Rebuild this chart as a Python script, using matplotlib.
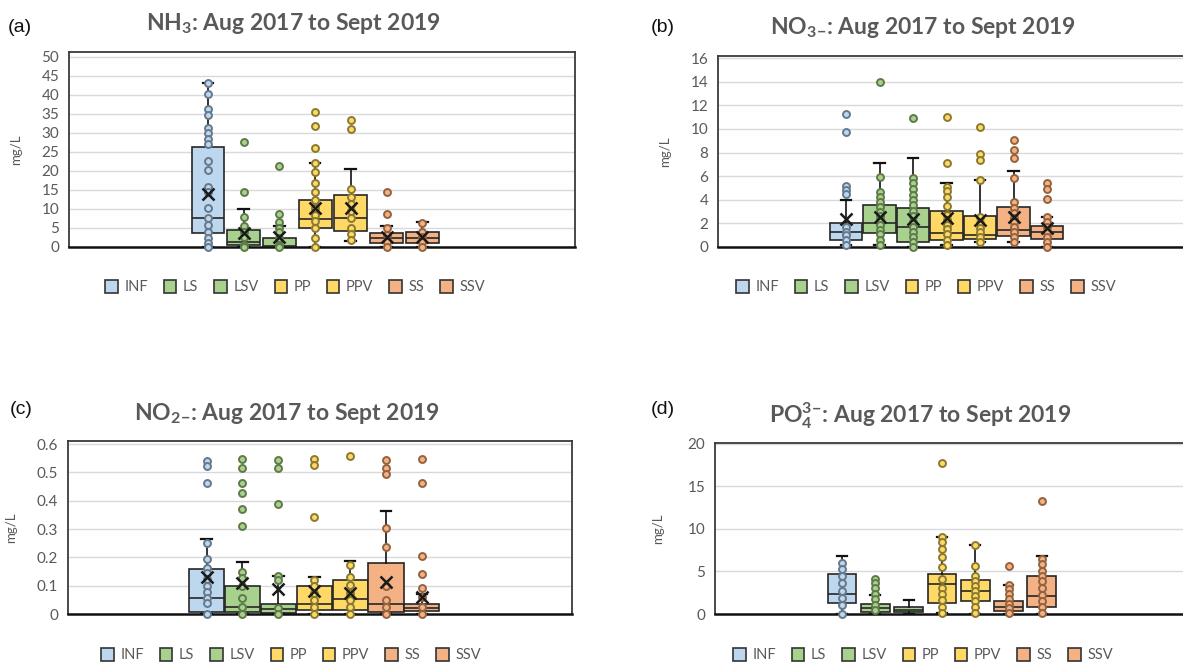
import numpy as np
import matplotlib
matplotlib.use('Agg')
import matplotlib.pyplot as plt
from matplotlib.patches import Patch

# ---------------- data ----------------
categories = ['INF', 'LS', 'LSV', 'PP', 'PPV', 'SS', 'SSV']

# (a) NH3
nh3_lo = [0, 0, 0, 0, 1.6, 0, 0]
nh3_q1 = [3.7, 0.5, 0.0, 5.1, 4.3, 1.1, 1.1]
nh3_med = [7.6, 1.2, 0.3, 7.3, 7.7, 2.4, 2.4]
nh3_q3 = [26.2, 4.4, 2.3, 12.4, 13.8, 3.6, 4.0]
nh3_hi = [43.1, 9.9, 5.5, 22.1, 20.6, 5.5, 6.6]
nh3_mean = [14.0, 3.7, 2.7, 10.3, 10.3, 2.7, 2.7]
nh3_pts = [
    [43.1, 40.3, 36.4, 34.7, 31.4, 29.9, 28.5, 27.2, 22.5, 20.3, 15.7, 14.4, 10.3, 7.5, 5.7, 4.0, 2.4, 1.1, 0],
    [27.5, 14.6, 7.9, 5.5, 4.0, 2.7, 0.5, 0],
    [21.2, 8.8, 6.6, 5.0, 4.0, 2.3, 0.5, 0],
    [35.6, 31.8, 26.1, 22.1, 19.7, 16.9, 14.4, 12.3, 10.3, 8.3, 6.9, 4.9, 2.3, 0],
    [33.4, 31.0, 15.3, 13.1, 11.4, 9.5, 7.5, 5.0, 3.3, 1.8],
    [14.6, 8.8, 5.0, 3.1, 1.4, 0],
    [6.2, 4.0, 2.7, 1.4, 0],
]

# (b) NO3-
no3_lo = [0.17, 0.17, 0, 0.17, 0.45, 0.45, 0]
no3_q1 = [0.6, 1.15, 0.45, 0.6, 0.65, 0.96, 0.65]
no3_med = [1.24, 2.0, 1.66, 1.21, 1.0, 1.44, 1.24]
no3_q3 = [2.0, 3.55, 3.32, 3.07, 2.65, 3.4, 1.77]
no3_hi = [4.0, 7.07, 7.5, 5.44, 5.66, 6.45, 2.56]
no3_mean = [2.4, 2.56, 2.37, 2.42, 2.3, 2.56, 1.58]
no3_pts = [
    [11.3, 9.75, 5.2, 4.8, 4.45, 1.7, 1.3, 1.0, 0.6, 0.17],
    [14.0, 5.94, 4.68, 4.25, 3.8, 3.4, 3.0, 2.65, 2.3, 1.9, 1.45, 1.07, 0.6, 0.17],
    [10.9, 5.8, 5.4, 4.9, 4.4, 4.0, 3.55, 3.07, 2.65, 2.14, 1.7, 1.3, 0.87, 0.45, 0],
    [11.0, 7.15, 5.1, 4.76, 4.25, 3.5, 2.7, 2.3, 1.9, 1.5, 1.1, 0.6, 0.17],
    [10.2, 7.9, 7.4, 5.66, 2.5, 2.0, 1.6, 1.24, 0.87, 0.45],
    [9.04, 8.25, 7.5, 5.8, 3.83, 3.27, 2.85, 2.48, 2.14, 1.7, 1.3, 0.87, 0.45],
    [5.44, 4.9, 4.03, 2.56, 2.14, 1.7, 1.3, 0.87, 0.45, 0],
]

# (c) NO2-
no2_lo = [0, 0, 0, 0, 0, 0, 0]
no2_q1 = [0.006, 0.008, 0.002, 0.014, 0.014, 0.008, 0.011]
no2_med = [0.055, 0.026, 0.018, 0.034, 0.052, 0.034, 0.02]
no2_q3 = [0.159, 0.1, 0.035, 0.1, 0.12, 0.179, 0.035]
no2_hi = [0.264, 0.182, 0.134, 0.129, 0.187, 0.365, 0.07]
no2_mean = [0.132, 0.108, 0.09, 0.081, 0.073, 0.114, 0.061]
no2_pts = [
    [0.542, 0.522, 0.461, 0.249, 0.196, 0.161, 0.144, 0.122, 0.099, 0.079, 0.058, 0.038, 0],
    [0.547, 0.514, 0.464, 0.426, 0.371, 0.311, 0.149, 0.126, 0.1, 0.055, 0.024, 0],
    [0.544, 0.514, 0.39, 0.134, 0.12, 0.02, 0],
    [0.549, 0.526, 0.341, 0.12, 0.099, 0.073, 0.049, 0.026, 0],
    [0.558, 0.173, 0.132, 0.102, 0.073, 0.049, 0.026, 0],
    [0.544, 0.514, 0.493, 0.302, 0.238, 0.1, 0.049, 0.026, 0],
    [0.547, 0.461, 0.205, 0.14, 0.091, 0.061, 0.026, 0],
]

# (d) PO4 3-
po4_lo = [0, 0, 0, 0.08, 0, 0, 0]
po4_q1 = [1.27, 0.28, 0.2, 1.27, 1.47, 0.4, 0.8]
po4_med = [2.35, 0.68, 0.45, 3.47, 2.67, 0.88, 2.07]
po4_q3 = [4.66, 1.2, 0.88, 4.66, 3.98, 1.47, 4.46]
po4_hi = [6.85, 2.19, 1.67, 9.1, 8.1, 3.37, 6.77]
po4_pts = [
    [6.05, 5.26, 4.46, 3.67, 2.67, 1.87, 1.08, 0],
    [4.14, 3.67, 3.07, 2.39, 1.79, 1.08, 0.48],
    [],
    [17.7, 9.0, 8.45, 7.65, 6.65, 5.58, 4.06, 3.07, 2.39, 1.67, 0.88, 0.08],
    [8.1, 5.7, 4.5, 3.85, 3.27, 2.67, 2.07, 1.47, 0.88, 0.08],
    [5.66, 3.37, 2.95, 2.39, 1.75, 1.2, 0.68, 0.08],
    [13.3, 6.5, 5.86, 5.06, 4.46, 3.87, 3.07, 2.27, 1.47, 0.8, 0.08],
]

# ---------------- style ----------------
plt.rcParams['font.family'] = ['Lato', 'DejaVu Sans']
plt.rcParams['mathtext.fontset'] = 'custom'
plt.rcParams['mathtext.rm'] = 'Lato'
plt.rcParams['mathtext.bf'] = 'Lato:bold'
plt.rcParams['mathtext.it'] = 'Lato:italic'

fills = ['#BDD7EE', '#A9D18E', '#A9D18E', '#FFD966', '#FFD966', '#F4B183', '#F4B183']
pt_edges = ['#66788C', '#5E7A48', '#5E7A48', '#8A7A30', '#8A7A30', '#93623F', '#93623F']
EDGE = '#262626'
GREY = '#595959'

W, H = 1183, 662
fig = plt.figure(figsize=(W / 100, H / 100), dpi=100)


def add_axes_px(l, r, t, b):
    return fig.add_axes([l / W, 1 - b / H, (r - l) / W, (b - t) / H])


def draw(ax, lo, q1, med, q3, hi, mean, pts, width, xlim, ylim, yticks, ticklabels):
    stats = []
    for i, c in enumerate(categories):
        d = dict(label=c, whislo=lo[i], q1=q1[i], med=med[i], q3=q3[i],
                 whishi=hi[i], fliers=[])
        if mean is not None:
            d['mean'] = mean[i]
        stats.append(d)
    pos = np.arange(len(categories))
    bp = ax.bxp(stats, positions=pos, widths=width, capwidths=0.3,
                patch_artist=True, showmeans=mean is not None,
                showfliers=False, manage_ticks=False,
                boxprops=dict(linewidth=1.2, edgecolor=EDGE),
                medianprops=dict(color=EDGE, linewidth=1.2),
                whiskerprops=dict(color='#111111', linewidth=1.2),
                capprops=dict(color='#111111', linewidth=1.6),
                meanprops=dict(marker='x', markeredgecolor='#1a1a1a',
                               markersize=8.5, markeredgewidth=1.8))
    for patch, c in zip(bp['boxes'], fills):
        patch.set_facecolor(c)
        patch.set_zorder(2)
    for k in ('whiskers', 'caps', 'medians'):
        for ln in bp[k]:
            ln.set_zorder(3)
    for ln in bp.get('means', []):
        ln.set_zorder(6)
    for i in range(len(categories)):
        if len(pts[i]) == 0:
            continue
        ax.plot(np.full(len(pts[i]), pos[i]), pts[i], 'o', mfc=fills[i],
                mec=pt_edges[i], ms=5.0, mew=1.4, zorder=5, clip_on=False)
    ax.set_xlim(*xlim)
    ax.set_ylim(*ylim)
    ax.set_yticks(yticks)
    ax.set_yticklabels(ticklabels)
    ax.set_xticks([])
    ax.yaxis.grid(True, color='#d9d9d9', linewidth=1.0)
    ax.set_axisbelow(True)
    ax.tick_params(axis='y', length=0, labelsize=11, labelcolor=GREY, pad=7)
    for s in ax.spines.values():
        s.set_color('#3a3a3a')
        s.set_linewidth(1.3)
    ax.spines['bottom'].set_color('#111111')
    ax.spines['bottom'].set_linewidth(1.8)
    ax.set_ylabel('mg/L', fontsize=9.5, color=GREY)


def xl(c0, s, left, right):
    return ((left - c0) / s, (right - c0) / s)


# (a)
axa = add_axes_px(69, 575, 52, 247)
draw(axa, nh3_lo, nh3_q1, nh3_med, nh3_q3, nh3_hi, nh3_mean, nh3_pts, 0.92,
     xl(208, 35.7, 69, 575), (0, 51.3), np.arange(0, 51, 5),
     [str(v) for v in range(0, 51, 5)])
axa.yaxis.set_label_coords(-0.093, 0.5)

# (b)
axb = add_axes_px(718, 1192, 56, 247)
draw(axb, no3_lo, no3_q1, no3_med, no3_q3, no3_hi, no3_mean, no3_pts, 0.98,
     xl(846, 33.5, 718, 1192), (0, 16.17), np.arange(0, 17, 2),
     [str(v) for v in range(0, 17, 2)])
axb.yaxis.set_label_coords(-0.099, 0.5)

# (c)
axc = add_axes_px(68, 572, 441, 614)
draw(axc, no2_lo, no2_q1, no2_med, no2_q3, no2_hi, no2_mean, no2_pts, 0.98,
     xl(206.5, 35.9, 68, 572), (0, 0.611), np.arange(0, 0.61, 0.1),
     ['0', '0.1', '0.2', '0.3', '0.4', '0.5', '0.6'])
axc.yaxis.set_label_coords(-0.10, 0.5)

# (d)
axd = add_axes_px(715, 1192, 443, 614)
draw(axd, po4_lo, po4_q1, po4_med, po4_q3, po4_hi, None, po4_pts, 0.86,
     xl(842, 33.3, 715, 1192), (0, 20.1), np.arange(0, 21, 5),
     [str(v) for v in range(0, 21, 5)])
axd.yaxis.set_label_coords(-0.107, 0.5)

# titles
titles = [
    (293, 24, r'NH$_\mathbf{3}$: Aug 2017 to Sept 2019'),
    (923, 27, r'NO$_\mathbf{3}$$_\mathbf{-}$: Aug 2017 to Sept 2019'),
    (287, 413, r'NO$_\mathbf{2}$$_\mathbf{-}$: Aug 2017 to Sept 2019'),
    (920, 416, r'PO$_\mathbf{4}^\mathbf{3}$$^\mathbf{-}$: Aug 2017 to Sept 2019'),
]
for x, y, t in titles:
    fig.text(x / W, 1 - y / H, t, ha='center', va='center', fontsize=16.5,
             fontweight='bold', color=GREY)

# panel labels
for x, y, t in [(8, 27, '(a)'), (651, 27, '(b)'), (10, 410, '(c)'), (651, 410, '(d)')]:
    fig.text(x / W, 1 - y / H, t, ha='left', va='center', fontsize=14,
             family='Liberation Sans', color='#111111')

# legends
handles = [Patch(facecolor=c, edgecolor='#333333', linewidth=1.2) for c in fills]
for x, y in [(295, 287), (926, 287), (291, 655), (923, 655)]:
    fig.legend(handles, categories, loc='center', bbox_to_anchor=(x / W, 1 - y / H),
               ncol=7, frameon=False, fontsize=10.5, labelcolor=GREY,
               handlelength=0.85, handleheight=1.05, handletextpad=0.45,
               columnspacing=1.1, borderpad=0)

fig.savefig('out.png', dpi=100)
